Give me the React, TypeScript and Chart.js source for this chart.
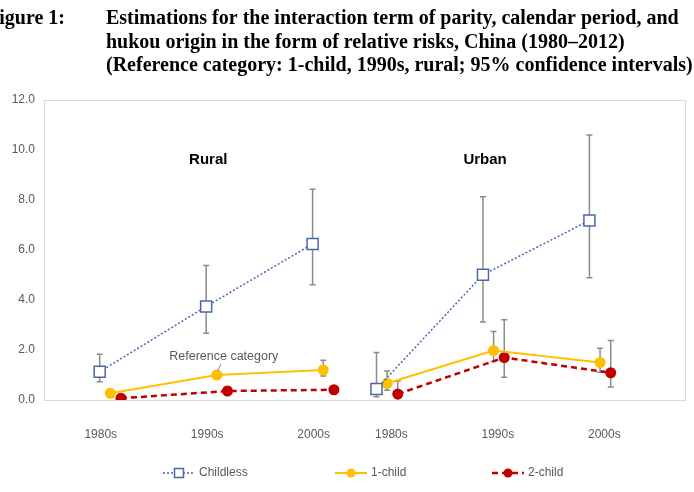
import { useEffect, useRef } from 'react';
import { Chart, registerables } from 'chart.js';

Chart.register(...registerables);

// Categories
const periods = ['1980s', '1990s', '2000s'];
const panels = ['Rural', 'Urban'];
const seriesNames = ['Childless', '1-child', '2-child'];

// Relative risks, ordered Rural 1980s..2000s then Urban 1980s..2000s
const childlessRR = [1.13, 3.74, 6.24, 0.44, 5.01, 7.18];
const childlessLo = [0.73, 2.67, 4.61, 0.13, 3.12, 4.89];
const childlessHi = [1.83, 5.38, 8.43, 1.9, 8.13, 10.6];

const oneChildRR = [0.27, 1.0, 1.2, 0.67, 1.98, 1.5];
const oneChildLo = [0.18, 1.0, 0.96, 0.39, 1.54, 1.11];
const oneChildHi = [0.42, 1.0, 1.59, 1.16, 2.74, 2.07];

const twoChildRR = [0.07, 0.36, 0.41, 0.24, 1.7, 1.09];
const twoChildLo = [0.04, 0.24, 0.34, 0.0, 0.91, 0.52];
const twoChildHi = [0.1, 0.53, 0.49, 0.76, 3.21, 2.38];

// Y axis ticks
const yTicks = [0, 2, 4, 6, 8, 10, 12];

const titleLines = [
  'Estimations for the interaction term of parity, calendar period, and',
  'hukou origin in the form of relative risks, China (1980\u20132012)',
  '(Reference category: 1-child, 1990s, rural; 95% confidence intervals)',
];

// Horizontal layout of the period groups along the x scale
const panelStart = [0, 2.6];
const seriesShift = [0, 0.1, 0.2];
const labelShift = [0.01, 0.14];

const SANS = '"Liberation Sans", Arial, sans-serif';
const SERIF = '"Liberation Serif", "Times New Roman", serif';
const GREY_TEXT = '#595959';

const colors = ['#4a68a8', '#FFC000', '#C00000'];

function buildPoints(values: number[], shift: number) {
  const pts: { x: number; y: number | null }[] = [];
  panels.forEach((_, p) => {
    periods.forEach((__, i) => {
      pts.push({ x: panelStart[p] + i + shift, y: values[p * periods.length + i] });
    });
    if (p < panels.length - 1) pts.push({ x: panelStart[p] + periods.length - 0.7, y: null });
  });
  return pts;
}

function buildBounds(values: number[]) {
  const out: (number | null)[] = [];
  panels.forEach((_, p) => {
    periods.forEach((__, i) => out.push(values[p * periods.length + i]));
    if (p < panels.length - 1) out.push(null);
  });
  return out;
}

const tickPositions: number[] = [];
const tickLabels: string[] = [];
panels.forEach((_, p) => {
  periods.forEach((per, i) => {
    tickPositions.push(panelStart[p] + i + labelShift[p]);
    tickLabels.push(per);
  });
});

const errorBarPlugin = {
  id: 'errorBars',
  beforeDatasetsDraw(chart: any) {
    const { ctx, chartArea, scales } = chart;
    // plot frame
    ctx.save();
    ctx.strokeStyle = '#d9d9d9';
    ctx.lineWidth = 1;
    ctx.strokeRect(
      Math.round(chartArea.left) + 0.5,
      Math.round(chartArea.top) + 0.5,
      Math.round(chartArea.right - chartArea.left),
      Math.round(chartArea.bottom - chartArea.top)
    );
    ctx.restore();

    ctx.save();
    ctx.strokeStyle = '#8c8c8c';
    ctx.lineWidth = 1.5;
    chart.data.datasets.forEach((ds: any, di: number) => {
      const meta = chart.getDatasetMeta(di);
      meta.data.forEach((el: any, j: number) => {
        const lo = ds.lo[j];
        const hi = ds.hi[j];
        if (lo == null || hi == null || lo === hi) return;
        const x = el.x;
        const y1 = scales.y.getPixelForValue(Math.max(lo, 0));
        const y2 = scales.y.getPixelForValue(hi);
        ctx.beginPath();
        ctx.moveTo(x, y1);
        ctx.lineTo(x, y2);
        ctx.moveTo(x - 3, y2);
        ctx.lineTo(x + 3, y2);
        if (lo > 0) {
          ctx.moveTo(x - 3, y1);
          ctx.lineTo(x + 3, y1);
        }
        ctx.stroke();
      });
    });
    ctx.restore();
  },
  afterDraw(chart: any) {
    const { ctx, scales } = chart;
    ctx.save();

    // Title
    ctx.fillStyle = '#000';
    ctx.font = `bold 20px ${SERIF}`;
    ctx.textBaseline = 'alphabetic';
    ctx.textAlign = 'right';
    ctx.fillText('Figure 1:', 65, 24);
    ctx.textAlign = 'left';
    titleLines.forEach((line, i) => {
      ctx.fillText(line, 106, 24 + i * 23.5);
    });

    // Panel labels
    ctx.font = `bold 15px ${SANS}`;
    ctx.textAlign = 'center';
    ctx.textBaseline = 'middle';
    panels.forEach((name, p) => {
      ctx.fillText(name, scales.x.getPixelForValue(panelStart[p] + 1.02), scales.y.getPixelForValue(9.6));
    });

    // Reference category note
    const refMeta = chart.getDatasetMeta(1);
    const refPt = refMeta.data[1];
    ctx.strokeStyle = '#8c8c8c';
    ctx.lineWidth = 1;
    ctx.beginPath();
    ctx.moveTo(refPt.x + 1, refPt.y - 4);
    ctx.lineTo(refPt.x + 4, refPt.y - 11);
    ctx.stroke();
    ctx.fillStyle = GREY_TEXT;
    ctx.font = `12.5px ${SANS}`;
    ctx.fillText('Reference category', refPt.x + 7, refPt.y - 18);

    // Legend
    const legendY = 473;
    const legendX = [163, 335, 492];
    ctx.textAlign = 'left';
    ctx.font = `12px ${SANS}`;
    chart.data.datasets.forEach((ds: any, i: number) => {
      const x0 = legendX[i];
      const mid = x0 + 16;
      ctx.strokeStyle = ds.borderColor;
      ctx.lineWidth = ds.borderWidth;
      ctx.setLineDash(ds.borderDash || []);
      ctx.beginPath();
      ctx.moveTo(x0, legendY);
      ctx.lineTo(x0 + 32, legendY);
      ctx.stroke();
      ctx.setLineDash([]);
      if (ds.pointStyle === 'rect') {
        ctx.fillStyle = '#fff';
        ctx.fillRect(mid - 4.5, legendY - 4.5, 9, 9);
        ctx.strokeStyle = ds.pointBorderColor;
        ctx.lineWidth = 1.5;
        ctx.strokeRect(mid - 4.5, legendY - 4.5, 9, 9);
      } else {
        ctx.fillStyle = ds.pointBackgroundColor;
        ctx.beginPath();
        ctx.arc(mid, legendY, 4.5, 0, Math.PI * 2);
        ctx.fill();
      }
      ctx.fillStyle = GREY_TEXT;
      ctx.textBaseline = 'middle';
      ctx.fillText(ds.label, x0 + 36, legendY);
    });

    ctx.restore();
  },
};

export default function App() {
  const canvasRef = useRef<HTMLCanvasElement | null>(null);

  useEffect(() => {
    document.body.style.margin = '0';
    const canvas = canvasRef.current;
    if (!canvas) return;

    const chart = new Chart(canvas, {
      type: 'line',
      data: {
        datasets: [
          {
            label: seriesNames[0],
            data: buildPoints(childlessRR, seriesShift[0]),
            lo: buildBounds(childlessLo),
            hi: buildBounds(childlessHi),
            borderColor: '#4a66b0',
            borderWidth: 1.5,
            borderDash: [2, 2],
            pointStyle: 'rect',
            pointRadius: 7.8,
            pointBorderWidth: 1.5,
            pointBorderColor: colors[0],
            pointBackgroundColor: '#ffffff',
            spanGaps: false,
          } as any,
          {
            label: seriesNames[1],
            data: buildPoints(oneChildRR, seriesShift[1]),
            lo: buildBounds(oneChildLo),
            hi: buildBounds(oneChildHi),
            borderColor: colors[1],
            borderWidth: 2,
            pointStyle: 'circle',
            pointRadius: 5.5,
            pointBorderWidth: 0,
            pointBackgroundColor: colors[1],
            pointBorderColor: colors[1],
            spanGaps: false,
          } as any,
          {
            label: seriesNames[2],
            data: buildPoints(twoChildRR, seriesShift[2]),
            lo: buildBounds(twoChildLo),
            hi: buildBounds(twoChildHi),
            borderColor: colors[2],
            borderWidth: 2.5,
            borderDash: [6, 4],
            pointStyle: 'circle',
            pointRadius: 5.5,
            pointBorderWidth: 0,
            pointBackgroundColor: colors[2],
            pointBorderColor: colors[2],
            spanGaps: false,
          } as any,
        ],
      },
      options: {
        animation: false,
        responsive: false,
        devicePixelRatio: 1,
        layout: { padding: { top: 100, right: 6, left: 0, bottom: 0 } },
        plugins: {
          legend: { display: false },
          tooltip: { enabled: false },
          title: { display: false },
        },
        scales: {
          x: {
            type: 'linear',
            min: -0.523,
            max: 5.495,
            grid: { display: false, drawTicks: false },
            border: { display: false },
            afterBuildTicks: (axis: any) => {
              axis.ticks = tickPositions.map((value) => ({ value }));
            },
            afterFit: (scale: any) => {
              scale.height = 92;
            },
            ticks: {
              autoSkip: false,
              maxRotation: 0,
              padding: 27,
              color: GREY_TEXT,
              font: { family: SANS, size: 12 },
              callback: (_v: any, i: number) => tickLabels[i],
            },
          },
          y: {
            min: 0,
            max: 12,
            grid: { display: false, drawTicks: false },
            border: { display: false },
            afterBuildTicks: (axis: any) => {
              axis.ticks = yTicks.map((value) => ({ value }));
            },
            afterFit: (scale: any) => {
              scale.width = 44;
            },
            ticks: {
              padding: 9,
              color: GREY_TEXT,
              font: { family: SANS, size: 12 },
              callback: (v: any) => Number(v).toFixed(1),
            },
          },
        },
      },
      plugins: [errorBarPlugin],
    });

    return () => chart.destroy();
  }, []);

  return (
    <div style={{ width: 694, height: 492, background: '#fff' }}>
      <canvas ref={canvasRef} width={694} height={492} style={{ display: 'block' }} />
    </div>
  );
}
